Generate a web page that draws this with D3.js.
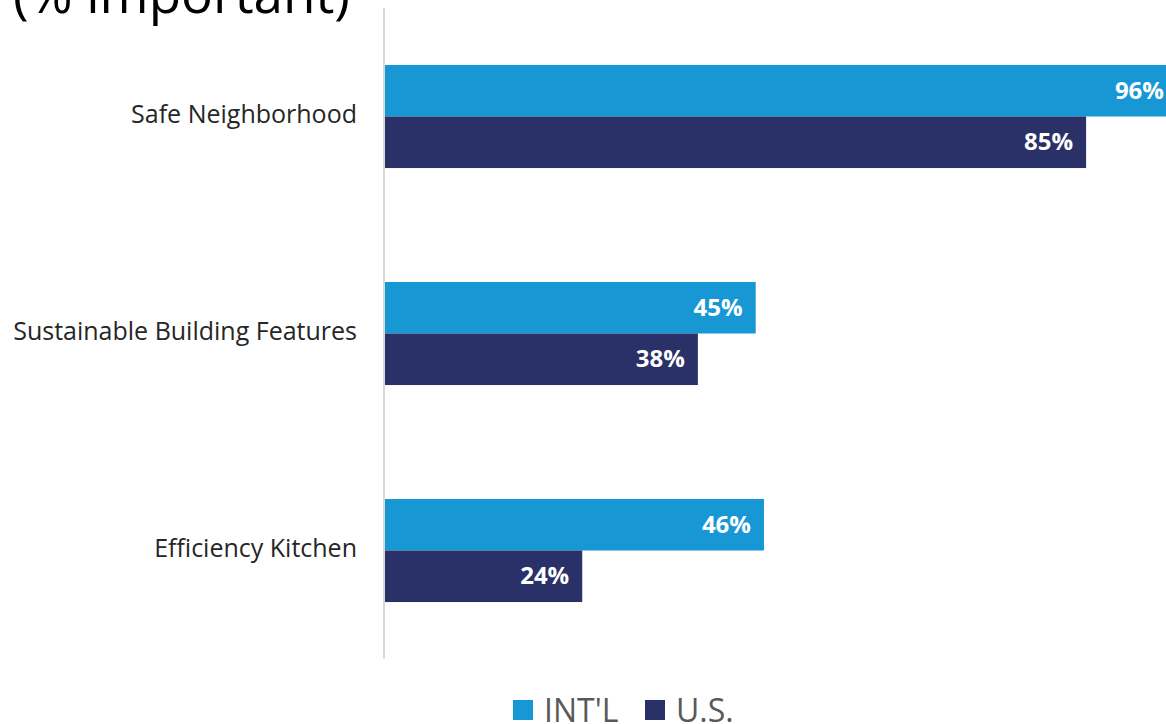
<!DOCTYPE html>
<meta charset="utf-8">
<script src="https://cdn.jsdelivr.net/npm/d3@7"></script>
<style>
body { margin: 0; background: #fff; font-family: "Open Sans", sans-serif; }
svg { display: block; }
.cat { font-size: 25px; fill: #262626; }
.val { font-size: 24px; font-weight: bold; fill: #fff; }
.legtext { font-size: 32px; fill: #595959; }
.title { font-size: 53px; fill: #000; }
</style>
<body>
<script>

// data
var categories = ["Safe Neighborhood", "Sustainable Building Features", "Efficiency Kitchen"];
var seriesNames = ["INT'L", "U.S."];
var intl = [96, 45, 46];
var us = [85, 38, 24];
var colors = ["#1897D5", "#2A3068"];

var w = 1166, h = 724;
var x0 = 384;

var svg = d3.select("body").append("svg")
    .attr("width", w)
    .attr("height", h);

var x = d3.scaleLinear().domain([0, 100]).range([x0, x0 + 826]);

var y = d3.scaleBand()
    .domain(categories)
    .range([8, 659])
    .paddingInner(0.525)
    .paddingOuter(0.2625);

var ySub = d3.scaleBand().domain(seriesNames).range([0, y.bandwidth()]);

// title (only its last line shows)
svg.append("text").attr("class", "title")
    .attr("x", 13).attr("y", 13)
    .text("(% important)");

var rows = categories.map(function(c, i) {
  return { cat: c, vals: [intl[i], us[i]] };
});

var g = svg.selectAll(".row").data(rows).enter()
  .append("g").attr("class", "row")
  .attr("transform", function(d) { return "translate(0," + y(d.cat) + ")"; });

g.selectAll("rect").data(function(d) { return d.vals; }).enter()
  .append("rect")
  .attr("x", x(0))
  .attr("y", function(d, i) { return ySub(seriesNames[i]); })
  .attr("width", function(d) { return x(d) - x(0); })
  .attr("height", ySub.bandwidth())
  .attr("fill", function(d, i) { return colors[i]; });

g.selectAll(".val").data(function(d) { return d.vals; }).enter()
  .append("text").attr("class", "val")
  .attr("x", function(d) { return x(d) - 13; })
  .attr("y", function(d, i) { return ySub(seriesNames[i]) + ySub.bandwidth() / 2; })
  .attr("dy", "0.33em")
  .attr("text-anchor", "end")
  .text(function(d) { return d + "%"; });

g.append("text").attr("class", "cat")
  .attr("x", 357)
  .attr("y", y.bandwidth() / 2)
  .attr("dy", "0.28em")
  .attr("text-anchor", "end")
  .text(function(d) { return d.cat; });

// vertical axis line
svg.append("line")
  .attr("x1", x0).attr("x2", x0)
  .attr("y1", 8).attr("y2", 659)
  .attr("stroke", "#d9d9d9").attr("stroke-width", 2);

// legend
var legX = [513, 645];
var leg = svg.selectAll(".leg").data(seriesNames).enter()
  .append("g").attr("class", "leg")
  .attr("transform", function(d, i) { return "translate(" + legX[i] + ",700)"; });
leg.append("rect").attr("width", 20).attr("height", 20)
  .attr("fill", function(d, i) { return colors[i]; });
leg.append("text").attr("class", "legtext")
  .attr("x", 31).attr("y", 22)
  .text(function(d) { return d; });

</script>
</body>
